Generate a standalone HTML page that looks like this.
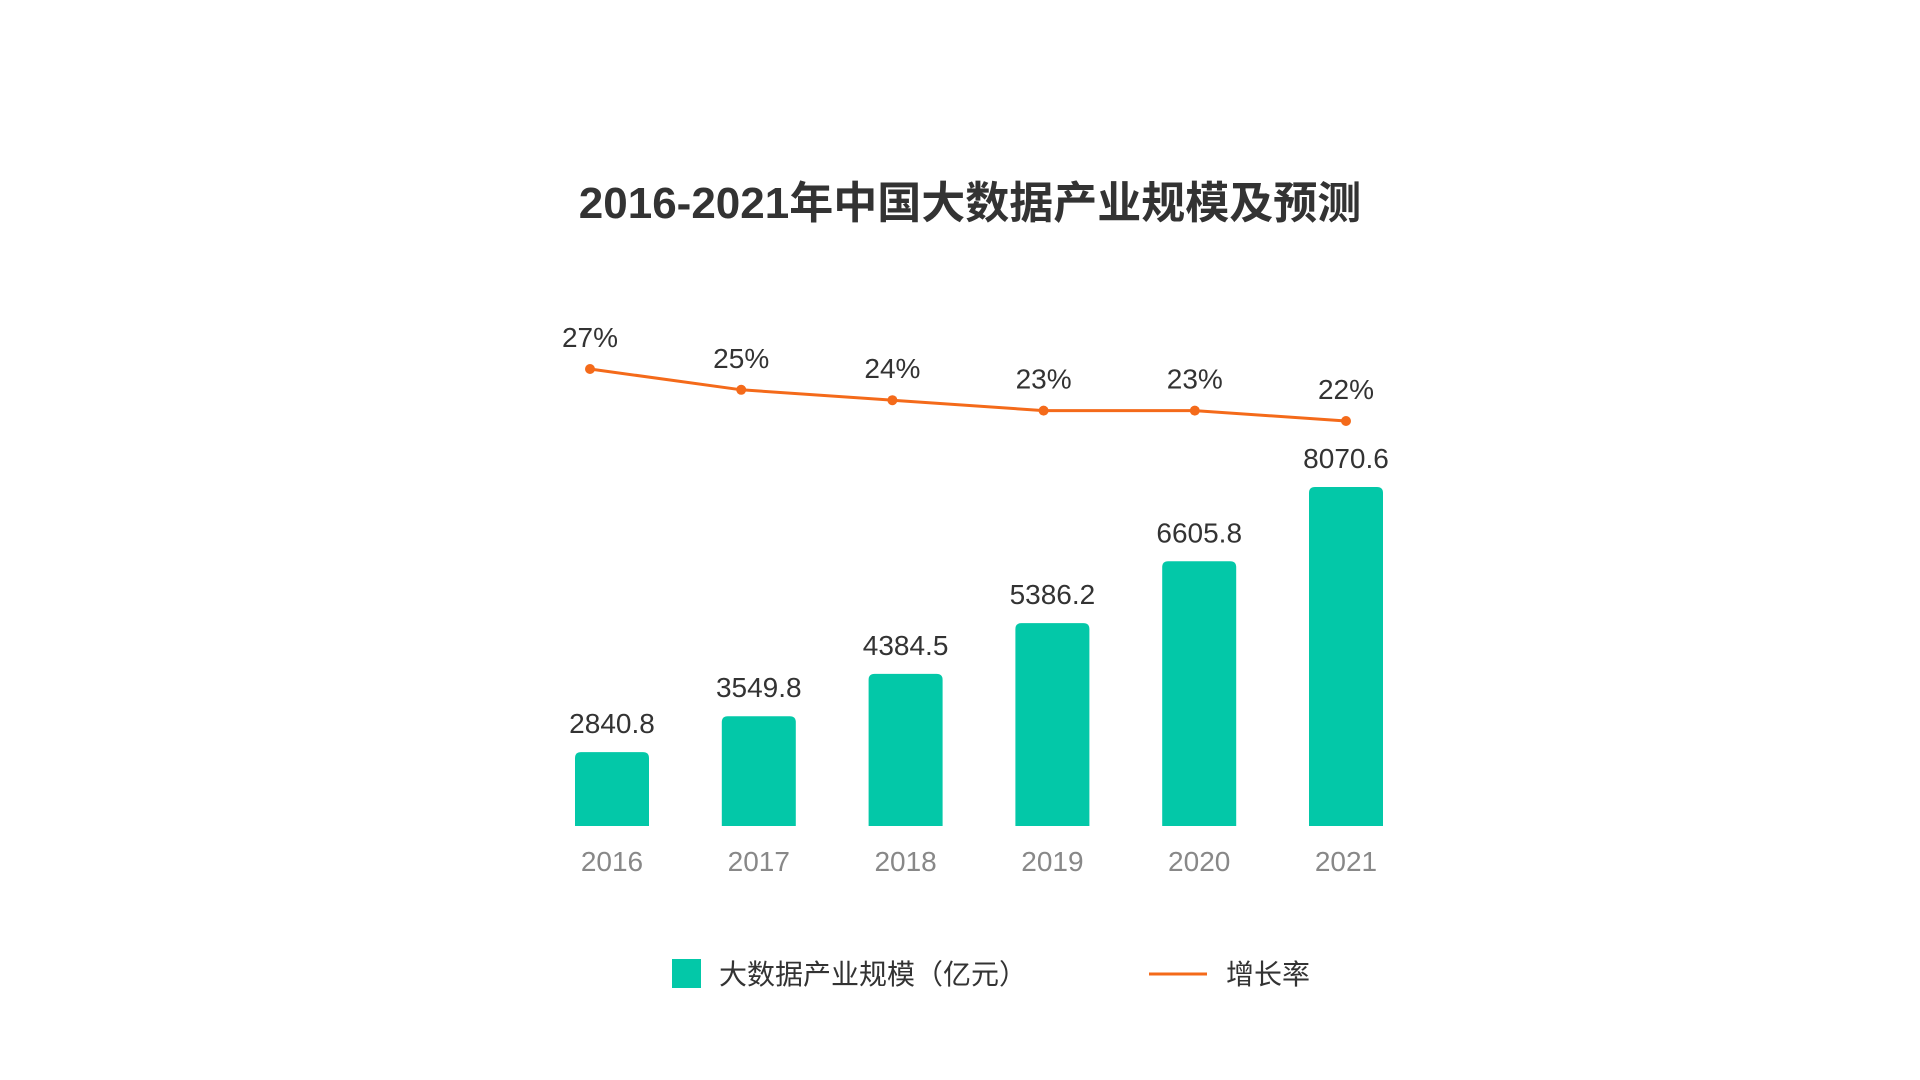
<!DOCTYPE html>
<html><head><meta charset="utf-8"><style>
html,body{margin:0;padding:0;background:#fff;}
body{width:1920px;height:1080px;overflow:hidden;position:relative;font-family:"Liberation Sans","Noto Sans CJK SC",sans-serif;}
svg{position:absolute;left:0;top:0;}
</style></head><body>
<svg id="chart" width="1920" height="1080" xmlns="http://www.w3.org/2000/svg">
<text x="970" y="218" text-anchor="middle" font-size="44" font-weight="bold" fill="#333" font-family="Liberation Sans, Noto Sans CJK SC, sans-serif">2016-2021年中国大数据产业规模及预测</text>
<g id="bars"></g><g id="line"></g>
<g>
<rect x="672" y="959" width="29" height="29" fill="#03C8A8"/>
<text x="719" y="984" font-size="28" fill="#333" font-family="Liberation Sans, Noto Sans CJK SC, sans-serif">大数据产业规模（亿元）</text>
<line x1="1149" y1="974" x2="1207" y2="974" stroke="#F46A1A" stroke-width="3"/>
<text x="1226" y="984" font-size="28" fill="#333" font-family="Liberation Sans, Noto Sans CJK SC, sans-serif">增长率</text>
</g>
</svg>
<script>
const categories = ["2016","2017","2018","2019","2020","2021"];
const sizeValues = [2840.8, 3549.8, 4384.5, 5386.2, 6605.8, 8070.6];
const rateValues = [27, 25, 24, 23, 23, 22];
const NS = "http://www.w3.org/2000/svg";
const FF = "Liberation Sans, Noto Sans CJK SC, sans-serif";
function xBar(i){ return 612 + i * 146.8; }
function yBar(v){ return 826 - (v - 1384) * 0.0507; }
function xLine(i){ return 590 + i * (1346 - 590) / (categories.length - 1); }
function yLine(v){ return 369 + (27 - v) * 10.4; }
function mk(tag, attrs){ const e = document.createElementNS(NS, tag); for (const k in attrs) e.setAttribute(k, attrs[k]); return e; }
const bars = document.getElementById('bars');
const line = document.getElementById('line');
sizeValues.forEach((v, i) => {
  const x = xBar(i), top = yBar(v), w = 74, r = 6;
  const p = mk('path', {d:`M${x-w/2},826 L${x-w/2},${top+r} Q${x-w/2},${top} ${x-w/2+r},${top} L${x+w/2-r},${top} Q${x+w/2},${top} ${x+w/2},${top+r} L${x+w/2},826 Z`, fill:'#03C8A8'});
  
  
  bars.appendChild(p);
  const t = mk('text', {x:x, y:top - 19, 'text-anchor':'middle', 'font-size':28, fill:'#333', 'font-family':FF});
  t.textContent = v.toFixed(1);
  
  
  bars.appendChild(t);
  const c = mk('text', {x:x, y:871, 'text-anchor':'middle', 'font-size':28, fill:'#888', 'font-family':FF});
  c.textContent = categories[i];
  
  
  bars.appendChild(c);
});
const pts = rateValues.map((v, i) => xLine(i) + ',' + yLine(v)).join(' ');
const pl = mk('polyline', {points:pts, fill:'none', stroke:'#F46A1A', 'stroke-width':3});


line.appendChild(pl);
rateValues.forEach((v, i) => {
  const d = mk('circle', {cx:xLine(i), cy:yLine(v), r:5, fill:'#F46A1A'});
  
  
  line.appendChild(d);
  const t = mk('text', {x:xLine(i), y:yLine(v) - 22, 'text-anchor':'middle', 'font-size':28, fill:'#333', 'font-family':FF});
  t.textContent = v + '%';
  
  
  line.appendChild(t);
});
</script>
</body></html>
